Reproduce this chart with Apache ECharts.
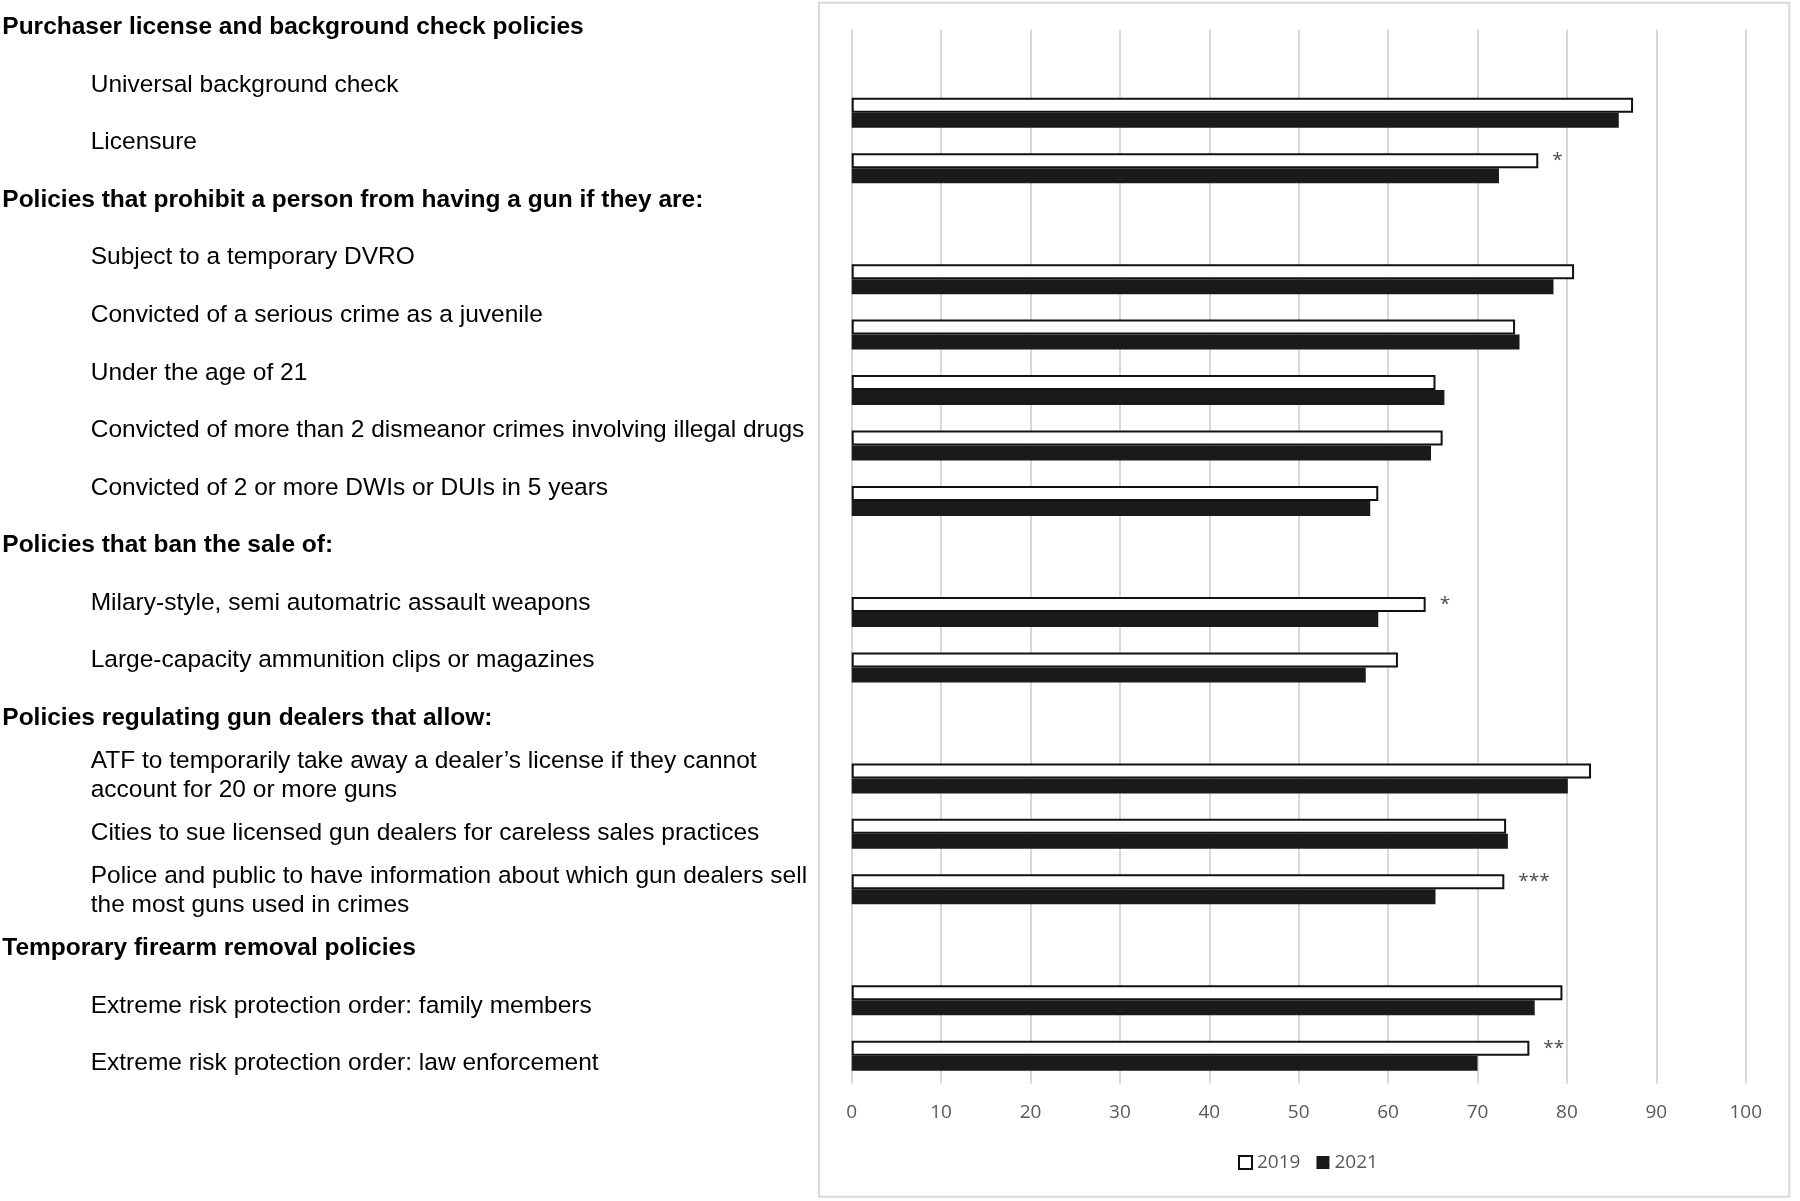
<!DOCTYPE html>
<html>
<head>
<meta charset="utf-8">
<script src="https://cdn.jsdelivr.net/npm/echarts@6/dist/echarts.min.js"></script>
<style>
html,body{margin:0;padding:0;background:#fff;}
#chart{width:1800px;height:1201px;}
</style>
</head>
<body>
<div id="chart"></div>
<script>
// Row labels (header rows have no bars)
var rowLabels = [
  'Purchaser license and background check policies',
  'Universal background check',
  'Licensure',
  'Policies that prohibit a person from having a gun if they are:',
  'Subject to a temporary DVRO',
  'Convicted of a serious crime as a juvenile',
  'Under the age of 21',
  'Convicted of more than 2 dismeanor crimes involving illegal drugs',
  'Convicted of 2 or more DWIs or DUIs in 5 years',
  'Policies that ban the sale of:',
  'Milary-style, semi automatric assault weapons',
  'Large-capacity ammunition clips or magazines',
  'Policies regulating gun dealers that allow:',
  'ATF to temporarily take away a dealer\u2019s license if they cannot\naccount for 20 or more guns',
  'Cities to sue licensed gun dealers for careless sales practices',
  'Police and public to have information about which gun dealers sell\nthe most guns used in crimes',
  'Temporary firearm removal policies',
  'Extreme risk protection order: family members',
  'Extreme risk protection order: law enforcement'
];
var isHeader = [1,0,0,1,0,0,0,0,0,1,0,0,1,0,0,0,1,0,0];
var seriesNames = ['2019', '2021'];
var values2019 = ['-', 87.4, 76.8, '-', 80.8, 74.2, 65.3, 66.1, 58.9, '-', 64.2, 61.1, '-', 82.7, 73.2, 73.0, '-', 79.5, 75.8];
var values2021 = ['-', 85.8, 72.4, '-', 78.5, 74.7, 66.3, 64.8, 58.0, '-', 58.9, 57.5, '-', 80.1, 73.4, 65.3, '-', 76.4, 70.0];
var significance = ['', '', '*', '', '', '', '', '', '', '', '*', '', '', '', '', '***', '', '', '**'];
var xTicks = [0, 10, 20, 30, 40, 50, 60, 70, 80, 90, 100];

var rowIds = rowLabels.map(function (_, i) { return 'r' + i; });

var chart = echarts.init(document.getElementById('chart'), null, {renderer: 'canvas'});

var labelFont = {fontFamily: 'Liberation Sans', fontSize: 24.5, color: '#000', lineHeight: 28.6};

var option = {
  animation: false,
  backgroundColor: '#fff',
  graphic: [{
    type: 'rect',
    shape: {x: 819, y: 2.7, width: 970.3, height: 1194},
    style: {fill: 'none', stroke: '#d9d9d9', lineWidth: 2},
    silent: true
  }],
  legend: {
    data: seriesNames,
    left: 1233,
    top: 1148,
    itemWidth: 13,
    itemHeight: 13,
    itemGap: 16,
    icon: 'rect',
    textStyle: {fontFamily: 'Open Sans', fontSize: 19, color: '#595959'}
  },
  grid: [
    {left: 851.7, top: 29.5, width: 894, height: 1054},
    {left: 0, top: 27.5, width: 1, height: 1036}
  ],
  xAxis: [
    {
      gridIndex: 0, type: 'value', min: 0, max: 100, interval: 10,
      axisLine: {show: false}, axisTick: {show: false},
      splitLine: {show: true, lineStyle: {color: '#d9d9d9', width: 2}},
      axisLabel: {margin: 20, fontFamily: 'Open Sans', fontSize: 19, color: '#595959',
        formatter: function (v) { return xTicks.indexOf(v) >= 0 ? String(v) : ''; }}
    },
    {gridIndex: 1, type: 'value', show: false, min: 0, max: 1}
  ],
  yAxis: [
    {
      gridIndex: 0, type: 'category', data: rowIds, inverse: true,
      axisLine: {show: false}, axisTick: {show: false}, axisLabel: {show: false},
      splitLine: {show: false}
    },
    {
      gridIndex: 1, type: 'category', data: rowLabels, inverse: true, boundaryGap: false,
      position: 'right', offset: 0,
      axisLine: {show: false}, axisTick: {show: false}, splitLine: {show: false},
      axisLabel: Object.assign({
        interval: 0, margin: 1.3, align: 'left', fontWeight: 'bold',
        formatter: function (v, i) { return isHeader[i] ? v : ''; }
      }, labelFont)
    },
    {
      gridIndex: 1, type: 'category', data: rowLabels, inverse: true, boundaryGap: false,
      position: 'right', offset: 88.5,
      axisLine: {show: false}, axisTick: {show: false}, splitLine: {show: false},
      axisLabel: Object.assign({
        interval: 0, margin: 1.2, align: 'left',
        formatter: function (v, i) { return isHeader[i] ? '' : v; }
      }, labelFont)
    }
  ],
  series: [
    {
      name: seriesNames[0], type: 'bar', xAxisIndex: 0, yAxisIndex: 0,
      data: values2019, barWidth: 15, barGap: '0%',
      itemStyle: {color: '#ffffff', borderColor: '#111', borderWidth: 2},
      label: {
        show: true, position: 'right', distance: 14,
        fontFamily: 'Open Sans', fontSize: 19, color: '#4d4d4d',
        formatter: function (p) { return significance[p.dataIndex]; }
      }
    },
    {
      name: seriesNames[1], type: 'bar', xAxisIndex: 0, yAxisIndex: 0,
      data: values2021, barWidth: 15, barGap: '0%',
      itemStyle: {color: '#1a1a1a', borderColor: '#0d0d0d', borderWidth: 0}
    }
  ]
};
chart.setOption(option);
</script>
</body>
</html>
